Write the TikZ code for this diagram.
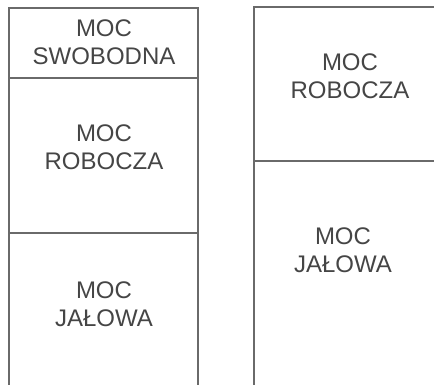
\documentclass[tikz,border=0pt]{standalone}
\usepackage{fontspec}
\setmainfont{Liberation Sans}
\definecolor{linegray}{HTML}{6A6A6A}
\definecolor{textgray}{HTML}{454545}
\begin{document}
\begin{tikzpicture}[x=1pt,y=-1pt,
  frame/.style={draw=linegray, line width=2pt},
  powerlabel/.style={align=center, font=\fontsize{24}{28}\selectfont,
    text=textgray, inner sep=0pt}]
\useasboundingbox (0,0) rectangle (434,384);

% left column: free, working and idle power
\draw[frame] (9,386) -- (9,8) -- (198,8) -- (198,386);
\draw[frame] (9,78) -- (198,78);
\draw[frame] (9,233) -- (198,233);
\node[powerlabel] (freeL) at (104,42.5) {MOC\\SWOBODNA};
\node[powerlabel] (workL) at (104,147) {MOC\\ROBOCZA};
\node[powerlabel] (idleL) at (104,304) {MOC\\JAŁOWA};

% right column: working and idle power only
\draw[frame] (254,386) -- (254,7) -- (436,7);
\draw[frame] (254,161) -- (436,161);
\node[powerlabel] (workR) at (350,76.5) {MOC\\ROBOCZA};
\node[powerlabel] (idleR) at (343,250.5) {MOC\\JAŁOWA};
\end{tikzpicture}
\end{document}
